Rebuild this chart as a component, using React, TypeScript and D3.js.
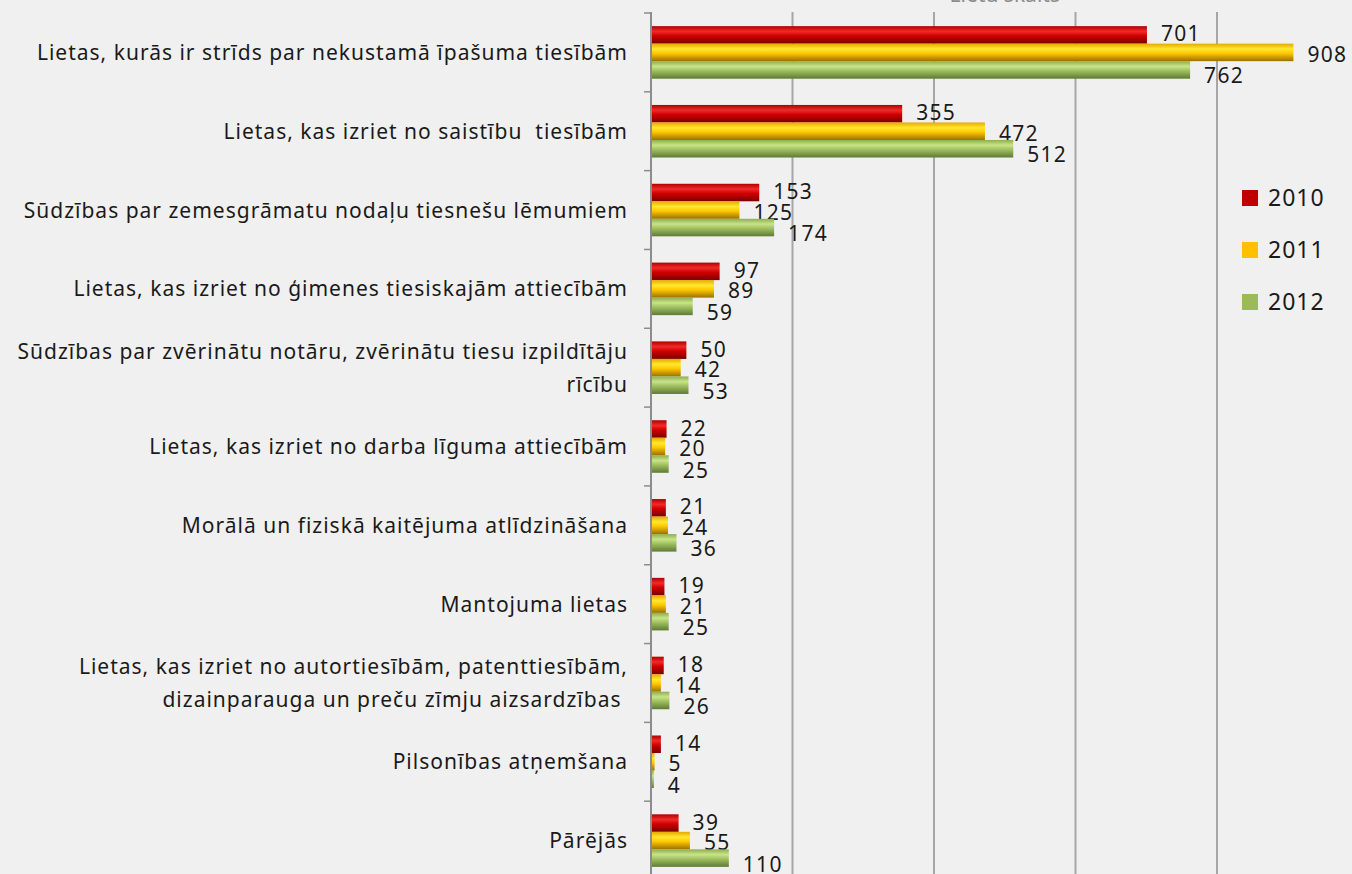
import React, { useEffect, useRef } from "react";
import * as d3 from "d3";

const categories = [
  ["Lietas, kurās ir strīds par nekustamā īpašuma tiesībām"],
  ["Lietas, kas izriet no saistību  tiesībām"],
  ["Sūdzības par zemesgrāmatu nodaļu tiesnešu lēmumiem"],
  ["Lietas, kas izriet no ģimenes tiesiskajām attiecībām"],
  ["Sūdzības par zvērinātu notāru, zvērinātu tiesu izpildītāju", "rīcību"],
  ["Lietas, kas izriet no darba līguma attiecībām"],
  ["Morālā un fiziskā kaitējuma atlīdzināšana"],
  ["Mantojuma lietas"],
  ["Lietas, kas izriet no autortiesībām, patenttiesībām,", "dizainparauga un preču zīmju aizsardzības "],
  ["Pilsonības atņemšana"],
  ["Pārējās"],
];
const years = ["2010", "2011", "2012"];
const values2010 = [701, 355, 153, 97, 50, 22, 21, 19, 18, 14, 39];
const values2011 = [908, 472, 125, 89, 42, 20, 24, 21, 14, 5, 55];
const values2012 = [762, 512, 174, 59, 53, 25, 36, 25, 26, 4, 110];
const xTicks = [0, 200, 400, 600, 800, 1000];
const axisTitle = "Lietu skaits";

const colors = ["#c00000", "#ffc000", "#9bbb59"];
const gradStops = [
  ["#b00000", "#f02a2a", "#d00000", "#7a0000"],
  ["#e6a800", "#ffe830", "#ffc800", "#9a7000"],
  ["#8fae50", "#c8e488", "#9fc060", "#5e7a35"],
];
// excel nudges the data labels apart a bit
const labelNudge = [-1, 2, 6];

export default function App() {
  const svgRef = useRef(null);

  useEffect(() => {
    const W = 1352;
    const H = 874;
    const svg = d3.select(svgRef.current);
    svg.selectAll("*").remove();

    const keys = categories.map((d, i) => "c" + i);
    const series = [values2010, values2011, values2012];

    const x = d3.scaleLinear().domain([0, 1000]).range([651, 1358.5]);
    const y0 = d3.scaleBand().domain(keys).range([13, 880]);
    const y1 = d3.scaleBand().domain(years).range([0, y0.bandwidth()]).paddingOuter(0.75);

    svg.append("rect").attr("width", W).attr("height", H).attr("fill", "#f0f0f0");

    const defs = svg.append("defs");
    gradStops.forEach((st, i) => {
      const g = defs
        .append("linearGradient")
        .attr("id", "grad" + i)
        .attr("x1", 0)
        .attr("y1", 0)
        .attr("x2", 0)
        .attr("y2", 1);
      [0, 0.3, 0.55, 1].forEach((o, j) => {
        g.append("stop").attr("offset", o).attr("stop-color", st[j]);
      });
    });

    // gridlines
    svg
      .append("g")
      .selectAll("line")
      .data(xTicks.slice(1))
      .enter()
      .append("line")
      .attr("x1", (d) => x(d))
      .attr("x2", (d) => x(d))
      .attr("y1", 12)
      .attr("y2", H)
      .attr("stroke", "#a6a6a6")
      .attr("stroke-width", 2);

    // axis title (cut off at top)
    svg
      .append("text")
      .attr("x", (x(400) + x(600)) / 2)
      .attr("y", 2)
      .attr("text-anchor", "middle")
      .style("font-family", "'Noto Sans', sans-serif")
      .style("font-size", "21px")
      .attr("fill", "#8c8c8c")
      .text(axisTitle);

    // bars
    series.forEach((vals, si) => {
      svg
        .append("g")
        .selectAll("rect")
        .data(vals)
        .enter()
        .append("rect")
        .attr("x", x(0))
        .attr("y", (d, i) => y0(keys[i]) + y1(years[si]))
        .attr("width", (d) => x(d) - x(0))
        .attr("height", y1.bandwidth())
        .attr("fill", `url(#grad${si})`);

      svg
        .append("g")
        .selectAll("text")
        .data(vals)
        .enter()
        .append("text")
        .attr("x", (d) => x(d) + 14)
        .attr("y", (d, i) => y0(keys[i]) + y1(years[si]) + y1.bandwidth() / 2 + labelNudge[si])
        .attr("dy", "0.36em")
        .style("font-family", "'Noto Sans', sans-serif")
        .style("font-size", "21px")
        .style("letter-spacing", "1.3px")
        .attr("fill", "#1a1a1a")
        .text((d) => d);
    });

    // vertical axis
    svg
      .append("line")
      .attr("x1", x(0))
      .attr("x2", x(0))
      .attr("y1", 12)
      .attr("y2", H)
      .attr("stroke", "#8c8c8c")
      .attr("stroke-width", 2);

    svg
      .append("g")
      .selectAll("line")
      .data(keys)
      .enter()
      .append("line")
      .attr("x1", x(0) - 7)
      .attr("x2", x(0))
      .attr("y1", (d) => y0(d))
      .attr("y2", (d) => y0(d))
      .attr("stroke", "#8c8c8c")
      .attr("stroke-width", 1.5);

    // category labels
    const lab = svg
      .append("g")
      .selectAll("text")
      .data(categories)
      .enter()
      .append("text")
      .attr("text-anchor", "end")
      .style("font-family", "'Noto Sans', sans-serif")
      .style("font-size", "21px")
      .style("letter-spacing", "1px")
      .style("white-space", "pre")
      .attr("fill", "#1a1a1a");
    lab.each(function (lines, i) {
      const cy = y0(keys[i]) + y0.bandwidth() / 2;
      const t = d3.select(this);
      lines.forEach((ln, j) => {
        t.append("tspan")
          .attr("x", 628)
          .attr("y", cy + (j - (lines.length - 1) / 2) * 33)
          .attr("dy", "0.36em")
          .text(ln);
      });
    });

    // legend
    const leg = svg
      .append("g")
      .selectAll("g")
      .data(years)
      .enter()
      .append("g")
      .attr("transform", (d, i) => `translate(1242,${190 + i * 52})`);
    leg
      .append("rect")
      .attr("width", 16)
      .attr("height", 16)
      .attr("fill", (d, i) => colors[i]);
    leg
      .append("text")
      .attr("x", 26)
      .attr("y", 8)
      .attr("dy", "0.36em")
      .style("font-family", "'Noto Sans', sans-serif")
      .style("font-size", "23px")
      .style("letter-spacing", "1px")
      .attr("fill", "#1a1a1a")
      .text((d) => d);
  }, []);

  return (
    <div style={{ position: "absolute", left: 0, top: 0 }}>
      <svg ref={svgRef} width={1352} height={874} style={{ display: "block" }}></svg>
    </div>
  );
}
